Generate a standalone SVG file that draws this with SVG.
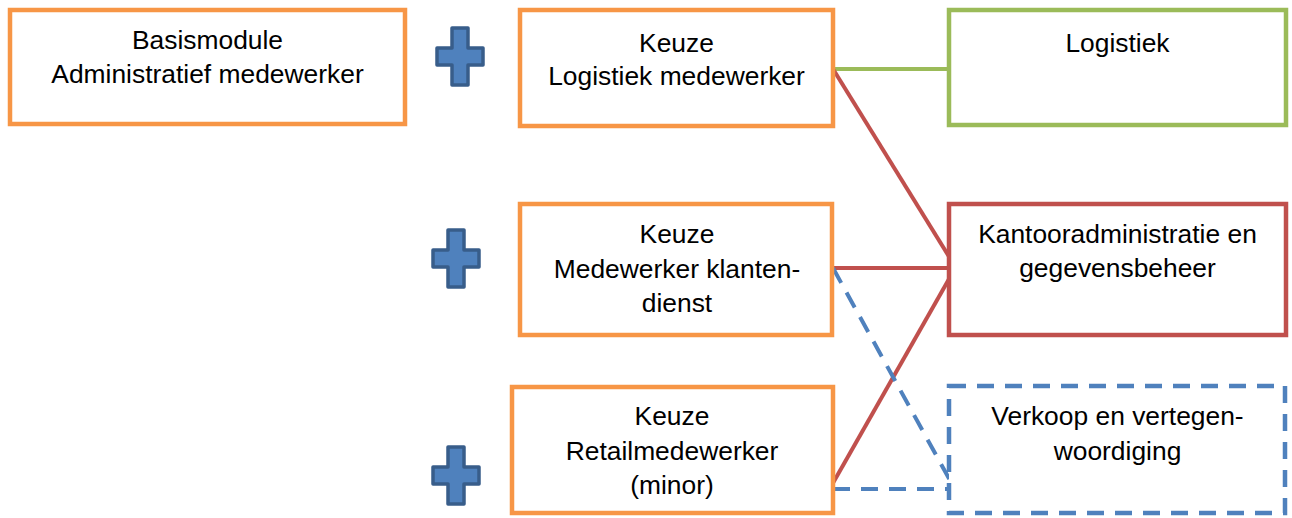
<svg xmlns="http://www.w3.org/2000/svg" width="1292" height="518" viewBox="0 0 1292 518">
<style>
  .box{fill:#ffffff;stroke-width:4.5}
  .orange{stroke:#f79646}
  .green{stroke:#9bbb59}
  .red{stroke:#c0504d}
  .blue{stroke:#4f81bd;stroke-dasharray:17 11}
  text{font-family:"Liberation Sans",Arial,sans-serif;font-size:26.4px;fill:#000000;text-anchor:middle}
  .plus{fill:#4f81bd;stroke:#385d8a;stroke-width:3.5;stroke-linejoin:round}
  .con{fill:none;stroke-width:4}
</style>
<defs>
  <path id="plus" d="M-8,-29 H8 V-9 H23 V8 H8 V28 H-8 V8 H-23 V-9 H-8 Z"/>
</defs>
<rect width="1292" height="518" fill="#ffffff"/>
<g id="connectors">
  <line class="con" stroke="#9bbb59" x1="833" y1="69" x2="952" y2="69"/>
  <line class="con" stroke="#c0504d" x1="833" y1="69" x2="953" y2="263"/>
  <line class="con" stroke="#c0504d" x1="833" y1="268" x2="953" y2="268"/>
  <line class="con" stroke="#c0504d" x1="833" y1="483" x2="953" y2="272"/>
  <line class="con" stroke="#4f81bd" stroke-width="4.5" stroke-dasharray="17 11" x1="833" y1="268" x2="952" y2="484"/>
  <line class="con" stroke="#4f81bd" stroke-width="4.5" stroke-dasharray="17 11" x1="833" y1="489" x2="952" y2="489"/>
</g>
<g id="basismodule">
  <rect class="box orange" x="10" y="10" width="395" height="114"/>
  <text x="207.5" y="49">Basismodule</text>
  <text x="207.5" y="83">Administratief medewerker</text>
</g>
<g id="plus1"><use href="#plus" class="plus" transform="translate(460,57)"/></g>
<g id="plus2"><use href="#plus" class="plus" transform="translate(456,259)"/></g>
<g id="plus3"><use href="#plus" class="plus" transform="translate(456,476)"/></g>
<g id="keuze-logistiek">
  <rect class="box orange" x="520" y="10" width="313" height="116"/>
  <text x="676.5" y="52">Keuze</text>
  <text x="676.5" y="85">Logistiek medewerker</text>
</g>
<g id="keuze-klantendienst">
  <rect class="box orange" x="520" y="204" width="312" height="131"/>
  <text x="677" y="243">Keuze</text>
  <text x="677" y="278">Medewerker klanten-</text>
  <text x="677" y="312">dienst</text>
</g>
<g id="keuze-retail">
  <rect class="box orange" x="512" y="387" width="321" height="126"/>
  <text x="672" y="425">Keuze</text>
  <text x="672" y="460">Retailmedewerker</text>
  <text x="672" y="494">(minor)</text>
</g>
<g id="logistiek">
  <rect class="box green" x="949" y="10" width="337" height="115"/>
  <text x="1117.5" y="52">Logistiek</text>
</g>
<g id="kantooradministratie">
  <rect class="box red" x="949" y="204" width="337" height="131"/>
  <text x="1117.5" y="243">Kantooradministratie en</text>
  <text x="1117.5" y="277">gegevensbeheer</text>
</g>
<g id="verkoop">
  <rect class="box blue" x="949" y="386" width="336" height="127"/>
  <text x="1117.5" y="425">Verkoop en vertegen-</text>
  <text x="1117.5" y="460">woordiging</text>
</g>
</svg>
